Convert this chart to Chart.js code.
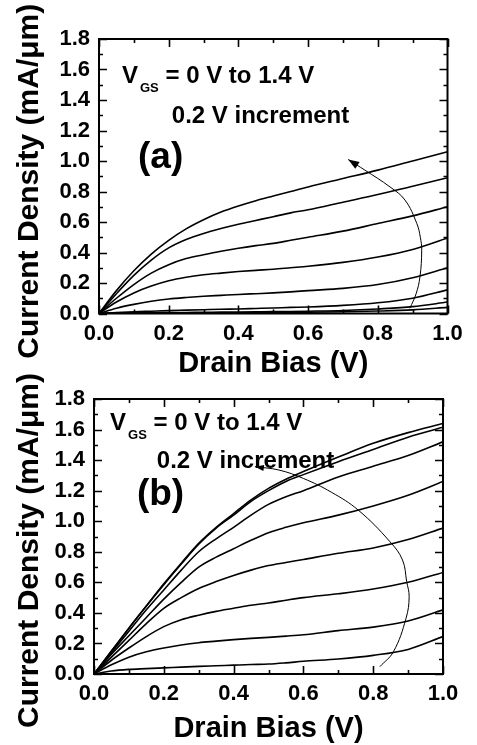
<!DOCTYPE html>
<html>
<head>
<meta charset="utf-8">
<script src="https://cdn.jsdelivr.net/npm/chart.js@4.4.0/dist/chart.umd.min.js"></script>
<style>
  html, body { margin: 0; padding: 0; background: #fff; }
  body { width: 477px; height: 745px; position: relative; overflow: hidden; }
  .panel { position: absolute; left: 0; width: 477px; height: 380px; }
  #panelA { top: 0; }
  #panelB { top: 365px; }
</style>
</head>
<body>
<div class="panel" id="panelA"><canvas id="chartA" width="477" height="380"></canvas></div>
<div class="panel" id="panelB"><canvas id="chartB" width="477" height="380"></canvas></div>
<script>
// Drain bias sweep (V)
const drainBias = [0, 0.05, 0.1, 0.15, 0.2, 0.25, 0.3, 0.35, 0.4, 0.45, 0.5, 0.55, 0.6, 0.7, 0.8, 0.9, 1.0];

// (a) current density (mA/um), VGS = 0.0 ... 1.4 V
const a00 = [0, 0.001, 0.002, 0.002, 0.003, 0.003, 0.004, 0.004, 0.005, 0.005, 0.006, 0.007, 0.008, 0.011, 0.016, 0.024, 0.04];
const a02 = [0, 0.002, 0.004, 0.005, 0.006, 0.007, 0.008, 0.009, 0.01, 0.011, 0.012, 0.013, 0.015, 0.02, 0.03, 0.045, 0.075];
const a04 = [0, 0.006, 0.011, 0.015, 0.019, 0.022, 0.025, 0.028, 0.03, 0.033, 0.036, 0.04, 0.043, 0.053, 0.07, 0.10, 0.155];
const a06 = [0, 0.035, 0.06, 0.08, 0.095, 0.105, 0.113, 0.119, 0.125, 0.13, 0.135, 0.142, 0.15, 0.165, 0.19, 0.235, 0.30];
const a08 = [0, 0.075, 0.135, 0.18, 0.215, 0.238, 0.254, 0.265, 0.275, 0.283, 0.29, 0.30, 0.31, 0.335, 0.37, 0.42, 0.495];
const a10 = [0, 0.10, 0.19, 0.265, 0.32, 0.36, 0.385, 0.408, 0.428, 0.445, 0.46, 0.48, 0.50, 0.54, 0.59, 0.64, 0.70];
const a12 = [0, 0.13, 0.25, 0.35, 0.43, 0.485, 0.525, 0.557, 0.585, 0.61, 0.635, 0.66, 0.68, 0.73, 0.78, 0.835, 0.89];
const a14 = [0, 0.15, 0.28, 0.39, 0.48, 0.555, 0.615, 0.665, 0.705, 0.74, 0.77, 0.80, 0.83, 0.885, 0.94, 1.00, 1.06];

// (b) current density (mA/um), VGS = 0.0 ... 1.4 V
const b00 = [0, 0.02, 0.03, 0.035, 0.04, 0.045, 0.05, 0.054, 0.058, 0.062, 0.065, 0.073, 0.083, 0.098, 0.122, 0.161, 0.245];
const b02 = [0, 0.06, 0.11, 0.145, 0.17, 0.19, 0.205, 0.215, 0.225, 0.233, 0.24, 0.248, 0.257, 0.284, 0.307, 0.347, 0.42];
const b04 = [0, 0.09, 0.17, 0.245, 0.31, 0.355, 0.385, 0.41, 0.43, 0.45, 0.465, 0.483, 0.50, 0.525, 0.556, 0.60, 0.665];
const b06 = [0, 0.11, 0.22, 0.33, 0.43, 0.50, 0.56, 0.605, 0.645, 0.68, 0.71, 0.73, 0.75, 0.79, 0.825, 0.88, 0.955];
const b08 = [0, 0.13, 0.25, 0.37, 0.49, 0.60, 0.70, 0.765, 0.82, 0.875, 0.925, 0.96, 0.99, 1.04, 1.10, 1.17, 1.26];
const b10 = [0, 0.14, 0.28, 0.42, 0.55, 0.68, 0.80, 0.885, 0.96, 1.04, 1.11, 1.16, 1.20, 1.29, 1.36, 1.43, 1.52];
const b12 = [0, 0.15, 0.30, 0.445, 0.585, 0.72, 0.85, 0.955, 1.04, 1.13, 1.20, 1.26, 1.305, 1.39, 1.47, 1.55, 1.615];
const b14 = [0, 0.15, 0.30, 0.445, 0.59, 0.725, 0.855, 0.96, 1.05, 1.14, 1.215, 1.275, 1.325, 1.42, 1.51, 1.58, 1.64];

// Curved arrows showing increasing VGS
const arrowAx = [0.892, 0.910, 0.921, 0.926, 0.922, 0.912, 0.878, 0.835, 0.763, 0.715];
const arrowAy = [0.034, 0.13, 0.241, 0.416, 0.50, 0.59, 0.744, 0.83, 0.94, 1.01];
const arrowBx = [0.819, 0.858, 0.894, 0.903, 0.896, 0.884, 0.848, 0.757, 0.68, 0.60, 0.53, 0.461];
const arrowBy = [0.048, 0.146, 0.364, 0.506, 0.604, 0.746, 0.866, 1.073, 1.19, 1.28, 1.335, 1.357];

// Axis ticks
const xTickValues = [0, 0.2, 0.4, 0.6, 0.8, 1.0];
const yTickValues = [0, 0.2, 0.4, 0.6, 0.8, 1.0, 1.2, 1.4, 1.6, 1.8];

const FONT = "'Liberation Sans', Arial, sans-serif";

// inward ticks on all four sides + boxed frame
const frameTicks = {
  id: 'frameTicks',
  afterDatasetsDraw(chart) {
    const { ctx, chartArea: a, scales: { x, y } } = chart;
    ctx.save();
    ctx.strokeStyle = '#000';
    ctx.lineWidth = 1.6;
    ctx.beginPath();
    for (let i = 0; i <= 10; i++) {
      const px = Math.round(x.getPixelForValue(i / 10)) + 0.5;
      const len = i % 2 === 0 ? 8 : 4;
      ctx.moveTo(px, a.bottom); ctx.lineTo(px, a.bottom - len);
      ctx.moveTo(px, a.top); ctx.lineTo(px, a.top + len);
    }
    for (let i = 0; i <= 18; i++) {
      const py = Math.round(y.getPixelForValue(i / 10)) + 0.5;
      const len = i % 2 === 0 ? 8 : 4;
      ctx.moveTo(a.left, py); ctx.lineTo(a.left + len, py);
      ctx.moveTo(a.right, py); ctx.lineTo(a.right - len, py);
    }
    ctx.stroke();
    ctx.lineWidth = 2;
    ctx.strokeRect(a.left, a.top, a.right - a.left, a.bottom - a.top);
    ctx.restore();
  }
};

// arrowhead at the end of the arrow path, plus text notes and y title
const notes = {
  id: 'notes',
  afterDraw(chart, args, opts) {
    const { ctx, chartArea: a, scales: { x, y } } = chart;
    ctx.save();
    ctx.fillStyle = '#000';

    const meta = chart.getDatasetMeta(chart.data.datasets.length - 1);
    const pts = meta.data;
    const p1 = pts[pts.length - 2], p2 = pts[pts.length - 1];
    const ang = Math.atan2(p2.y - p1.y, p2.x - p1.x);
    const L = opts.headLen, W = opts.headWidth;
    ctx.beginPath();
    ctx.moveTo(p2.x, p2.y);
    ctx.lineTo(p2.x - L * Math.cos(ang) + W * Math.sin(ang), p2.y - L * Math.sin(ang) - W * Math.cos(ang));
    ctx.lineTo(p2.x - L * Math.cos(ang) - W * Math.sin(ang), p2.y - L * Math.sin(ang) + W * Math.cos(ang));
    ctx.closePath();
    ctx.fill();

    ctx.textBaseline = 'alphabetic';
    ctx.textAlign = 'left';

    // V_GS line
    let px = x.getPixelForValue(opts.vgs[0]);
    const py = y.getPixelForValue(opts.vgs[1]);
    ctx.font = 'bold 24px ' + FONT;
    ctx.fillText('V', px, py);
    px += ctx.measureText('V').width + 2;
    ctx.font = 'bold 13px ' + FONT;
    ctx.fillText('GS', px, py + 9);
    px += ctx.measureText('GS').width;
    ctx.font = 'bold 24px ' + FONT;
    ctx.fillText(' = 0 V to 1.4 V', px, py);

    ctx.fillText('0.2 V increment', x.getPixelForValue(opts.incr[0]), y.getPixelForValue(opts.incr[1]));

    ctx.font = 'bold 37px ' + FONT;
    ctx.fillText(opts.tag, x.getPixelForValue(opts.tagPos[0]), y.getPixelForValue(opts.tagPos[1]));

    // y axis title
    ctx.font = 'bold 30px ' + FONT;
    ctx.textAlign = 'center';
    ctx.textBaseline = 'middle';
    ctx.translate(30, (a.top + a.bottom) / 2 + opts.yTitleShift);
    ctx.rotate(-Math.PI / 2);
    ctx.fillText('Current Density (mA/\u03bcm)', 0, 0);
    ctx.restore();
  }
};

function makePanel(canvasId, series, arrowX, arrowY, pad, axisW, axisH, noteOpts) {
  const curves = series.map(ys => ({
    data: drainBias.map((v, i) => ({ x: v, y: ys[i] })),
    borderColor: '#000',
    borderWidth: 1.6,
    pointRadius: 0,
    cubicInterpolationMode: 'monotone',
    fill: false
  }));
  curves.push({
    data: arrowX.map((v, i) => ({ x: v, y: arrowY[i] })),
    borderColor: '#000',
    borderWidth: 1,
    pointRadius: 0,
    tension: 0.4,
    fill: false
  });

  const tickFont = { family: FONT, size: 22, weight: 'bold' };

  return new Chart(document.getElementById(canvasId), {
    type: 'line',
    data: { datasets: curves },
    options: {
      responsive: false,
      animation: false,
      devicePixelRatio: 1,
      layout: { padding: pad },
      plugins: { legend: { display: false }, tooltip: { enabled: false }, notes: noteOpts },
      scales: {
        x: {
          type: 'linear',
          min: 0,
          max: 1,
          afterBuildTicks: s => { s.ticks = xTickValues.map(v => ({ value: v })); },
          afterFit: s => { s.height = axisH; },
          grid: { display: false, drawTicks: false },
          border: { display: false },
          ticks: { color: '#000', font: tickFont, padding: 7, maxRotation: 0, autoSkip: false,
                   callback: v => Number(v).toFixed(1) },
          title: { display: true, text: 'Drain Bias (V)', color: '#000',
                   font: { family: FONT, size: 29, weight: 'bold', lineHeight: 1.1 },
                   padding: { top: 0, bottom: 0 } }
        },
        y: {
          type: 'linear',
          min: 0,
          max: 1.8,
          afterBuildTicks: s => { s.ticks = yTickValues.map(v => ({ value: v })); },
          afterFit: s => { s.width = axisW; },
          grid: { display: false, drawTicks: false },
          border: { display: false },
          ticks: { color: '#000', font: tickFont, padding: 9, autoSkip: false,
                   callback: v => Number(v).toFixed(1) }
        }
      }
    },
    plugins: [frameTicks, notes]
  });
}

makePanel('chartA', [a00, a02, a04, a06, a08, a10, a12, a14], arrowAx, arrowAy,
  { top: 39, right: 29.5, bottom: 0, left: 0 }, 99, 66.5,
  { vgs: [0.066, 1.51], incr: [0.209, 1.249], tag: '(a)', tagPos: [0.112, 0.953],
    headLen: 11, headWidth: 4, yTitleShift: 5 });

makePanel('chartB', [b00, b02, b04, b06, b08, b10, b12, b14], arrowBx, arrowBy,
  { top: 34, right: 34, bottom: 0, left: 0 }, 94, 71,
  { vgs: [0.046, 1.597], incr: [0.18, 1.348], tag: '(b)', tagPos: [0.123, 1.106],
    headLen: 9, headWidth: 3, yTitleShift: 14 });
</script>
</body>
</html>
